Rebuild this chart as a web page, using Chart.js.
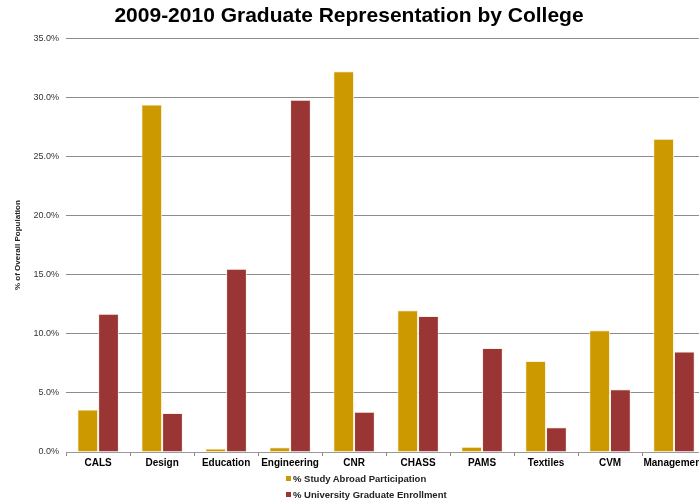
<!DOCTYPE html>
<html>
<head>
<meta charset="utf-8">
<script src="https://cdn.jsdelivr.net/npm/chart.js@4/dist/chart.umd.min.js"></script>
<style>
  html, body { margin: 0; padding: 0; background: #fff; overflow: hidden; }
  #wrap { position: relative; width: 706px; height: 503px; }
  #legend { position: absolute; left: 286px; top: 472px; font: bold 9.5px "Liberation Sans", Arial, sans-serif; color: #222; }
  #legend div { height: 16px; line-height: 14px; white-space: nowrap; }
  #legend span { display: inline-block; width: 5px; height: 5px; margin-right: 2px; vertical-align: 1px; }
</style>
</head>
<body>
<div id="wrap">
  <canvas id="chart" width="706" height="503"></canvas>
  <div id="legend"></div>
</div>
<script>
// Chart data
const colleges = ['CALS', 'Design', 'Education', 'Engineering', 'CNR', 'CHASS', 'PAMS', 'Textiles', 'CVM', 'Management'];
const studyAbroad = [3.6, 29.4, 0.3, 0.4, 32.2, 12.0, 0.45, 7.7, 10.3, 26.5];
const gradEnrollment = [11.7, 3.3, 15.5, 29.8, 3.4, 11.5, 8.8, 2.1, 5.3, 8.5];
const seriesNames = ['% Study Abroad Participation', '% University Graduate Enrollment'];
const seriesColors = ['#CC9900', '#993535'];
const yTicks = [0, 5, 10, 15, 20, 25, 30, 35];

const font = '"Liberation Sans", Arial, sans-serif';

const ctx = document.getElementById('chart').getContext('2d');
new Chart(ctx, {
    type: 'bar',
    data: {
        labels: colleges,
        datasets: [
            { label: seriesNames[0], data: studyAbroad, backgroundColor: seriesColors[0] },
            { label: seriesNames[1], data: gradEnrollment, backgroundColor: seriesColors[1] }
        ].map(d => Object.assign(d, {
            borderColor: 'rgba(255,240,220,0.9)',
            borderWidth: 1,
            categoryPercentage: 0.65,
            barPercentage: 1
        }))
    },
    options: {
        responsive: false,
        animation: false,
        // negative left padding keeps the title centred on the visible window
        layout: { padding: { left: -8, right: 0, top: 2, bottom: 33 } },
        plugins: {
            legend: { display: false },
            tooltip: { enabled: false },
            title: {
                display: true,
                text: '2009-2010 Graduate Representation by College',
                color: '#000',
                font: { family: font, size: 21, weight: 'bold' },
                padding: { top: 2, bottom: 9 }
            }
        },
        scales: {
            x: {
                grid: { display: true, drawOnChartArea: false, drawTicks: true, tickLength: 4, color: '#888', offset: true },
                border: { display: true, color: '#999' },
                ticks: { color: '#000', font: { family: font, size: 10, weight: 'bold' }, padding: 1, maxRotation: 0, autoSkip: false }
            },
            y: {
                min: 0,
                max: 35,
                afterBuildTicks: axis => { axis.ticks = yTicks.map(v => ({ value: v })); },
                grid: { color: '#8c8c8c', lineWidth: 1, drawTicks: false },
                border: { display: false },
                ticks: { color: '#333', font: { family: font, size: 9 }, padding: 7, callback: v => v.toFixed(1) + '%' },
                title: {
                    display: true,
                    text: '% of Overall Population',
                    color: '#222',
                    font: { family: font, size: 8, weight: 'bold' },
                    padding: { top: 21, bottom: 4 }
                }
            }
        }
    }
});

// HTML legend stacked like the original
document.getElementById('legend').innerHTML = seriesNames.map((name, i) =>
    `<div><span style="background:${seriesColors[i]}"></span>${name}</div>`).join('');
</script>
</body>
</html>
